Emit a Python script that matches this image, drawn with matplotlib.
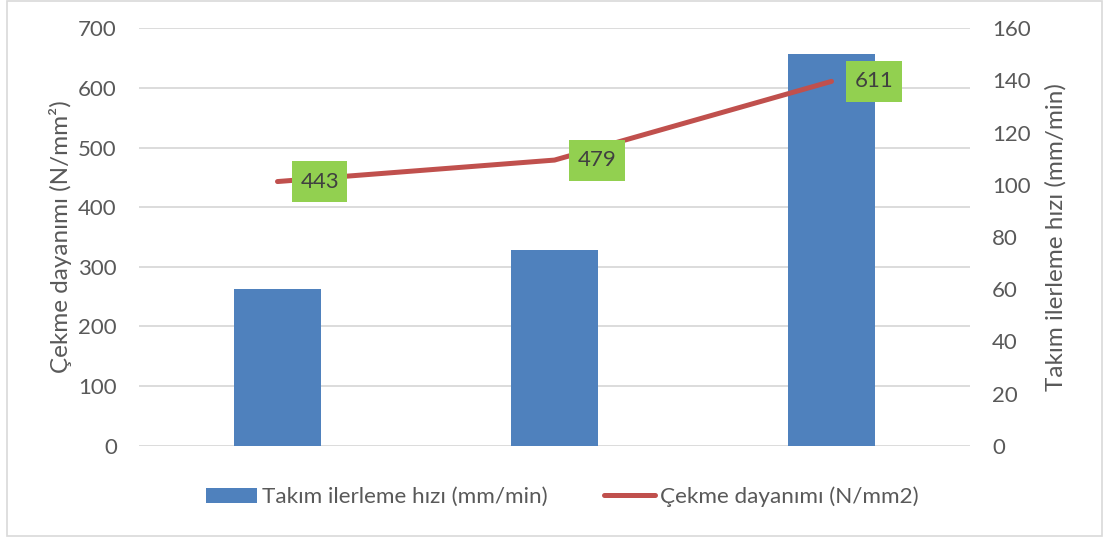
import matplotlib.pyplot as plt
from matplotlib.patches import Patch, Rectangle
from matplotlib.lines import Line2D

plt.rcParams['font.family'] = ['Lato', 'DejaVu Sans']

# data
categories = ['1', '2', '3']
feed_rate = [60, 75, 150]          # Takım ilerleme hızı (mm/min)
tensile = [443, 479, 611]          # Çekme dayanımı (N/mm2)

BAR_COLOR = '#4F81BD'
LINE_COLOR = '#C0504D'
LABEL_BG = '#92D050'
TEXT = '#595959'
GRID = '#D9D9D9'

W, H = 1107, 540
fig = plt.figure(figsize=(W / 100, H / 100), dpi=100)

# left scale axis: grid + left ticks
ax = fig.add_axes([139 / W, 1 - 445.7 / H, (970 - 139) / W, (445.7 - 28.3) / H])
ax.set_xlim(-0.5, len(categories) - 0.5)
ax.set_ylim(0, 700)
ax.set_yticks(range(0, 701, 100))
ax.grid(axis='y', color=GRID, linewidth=1.3)
ax.set_axisbelow(True)
ax.tick_params(axis='y', length=0, pad=16, labelsize=16, labelcolor=TEXT)
ax.set_ylabel('Çekme dayanımı (N/mm²)', fontsize=17.5, color=TEXT, labelpad=4)

# bars on the right scale
axb = ax.twinx()
axb.set_ylim(0, 160)
axb.set_yticks(range(0, 161, 20))
axb.bar(range(len(categories)), feed_rate, width=0.314, color=BAR_COLOR, zorder=2)
axb.tick_params(axis='y', length=0, pad=16, labelsize=16, labelcolor=TEXT)
axb.set_ylabel('Takım ilerleme hızı (mm/min)', fontsize=17.5, color=TEXT, labelpad=10)

# line on top, same scale as the left axis
axl = ax.twinx()
axl.set_ylim(0, 700)
axl.set_yticks([])
axl.plot(range(len(categories)), tensile, color=LINE_COLOR, linewidth=3.6,
         solid_capstyle='round', solid_joinstyle='round')
for i, v in enumerate(tensile):
    axl.annotate(str(v), (i, v), xytext=(16.5, 0), textcoords='offset points',
                 ha='left', va='center', fontsize=16, color='#404040',
                 bbox=dict(boxstyle='square,pad=0.38', facecolor=LABEL_BG,
                           edgecolor='none', mutation_aspect=1.25))

for a in (ax, axb, axl):
    for s in a.spines.values():
        s.set_visible(False)
    a.set_xticks([])

handles = [Patch(facecolor=BAR_COLOR, label='Takım ilerleme hızı (mm/min)'),
           Line2D([0], [0], color=LINE_COLOR, linewidth=3.6, solid_capstyle='round',
                  label='Çekme dayanımı (N/mm2)')]
leg = fig.legend(handles=handles, loc='center', bbox_to_anchor=(562 / W, 1 - 497 / H),
                 ncol=2, frameon=False, fontsize=16.2, handlelength=2.3,
                 handletextpad=0.2, columnspacing=2.5)
for t in leg.get_texts():
    t.set_color(TEXT)

# chart border
fig.patches.append(Rectangle((7 / W, 1 - 536 / H), 1095 / W, 535.5 / H,
                             transform=fig.transFigure, fill=False,
                             edgecolor=GRID, linewidth=1.2))

fig.savefig('out.png', dpi=100)
